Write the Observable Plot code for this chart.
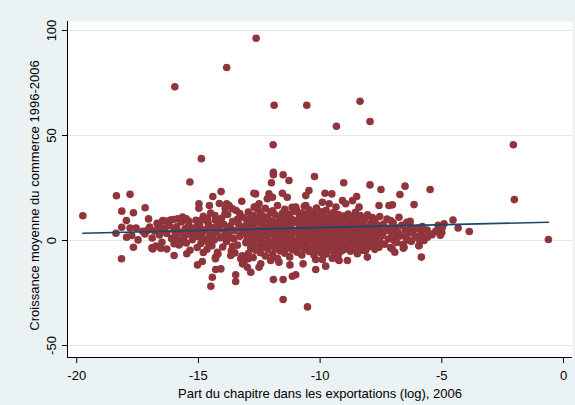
<!DOCTYPE html>
<html>
<head>
<meta charset="utf-8">
<script src="https://cdn.jsdelivr.net/npm/d3@7"></script>
<script src="https://cdn.jsdelivr.net/npm/@observablehq/plot@0.6"></script>
<style>
  html, body { margin: 0; padding: 0; background: #eaf2f3; }
  #chart { width: 575px; height: 405px; }
</style>
</head>
<body>
<div id="chart"></div>
<script>
// Axis ticks and titles
const xTicks = [-20, -15, -10, -5, 0];
const yTicks = [-50, 0, 50, 100];
const xTitle = "Part du chapitre dans les exportations (log), 2006";
const yTitle = "Croissance moyenne du commerce 1996-2006";

// Fitted line (linear fit), endpoints at the observed range of x
const fitX = [-19.75, -0.62];
const fitY = [3.5, 8.7];

// Chapters: [log export share, average trade growth]
const outliers = [
  [-12.63, 96.3], [-13.84, 82.4], [-15.97, 73.2], [-11.89, 64.4], [-10.55, 64.4],
  [-8.36, 66.3], [-7.95, 56.7], [-9.33, 54.4], [-11.93, 45.6], [-2.06, 45.6],
  [-14.88, 39.0], [-2.02, 19.5], [-0.62, 0.5], [-15.35, 27.9]
];

const leftEdge = [
  [-18.37, 21.3], [-17.81, 22.0], [-19.75, 11.8], [-18.15, 14.0], [-17.67, 13.2],
  [-17.19, 15.6], [-17.96, 9.5], [-17.05, 10.3], [-18.15, 6.3], [-18.39, 3.5],
  [-17.81, 6.0], [-17.56, 6.0], [-17.95, 1.6], [-17.74, 2.4], [-17.48, 0.3],
  [-17.67, -3.2], [-18.16, -8.7], [-17.29, 4.4], [-17.07, 5.1], [-16.68, 5.6],
  [-16.44, 6.0], [-16.91, -3.5], [-15.66, -0.8], [-16.47, 9.5], [-16.04, 10.0],
  [-15.86, 10.3], [-15.39, 9.2], [-14.93, 9.5], [-14.63, 10.3]
];

const upperFringe = [
  [-14.41, 21.0], [-14.07, 23.3], [-14.98, 17.5], [-14.98, 15.4], [-14.55, 16.7],
  [-14.14, 17.6], [-13.84, 17.5], [-14.32, 11.9], [-13.91, 12.7],
  [-11.92, 32.5], [-11.92, 31.3], [-11.52, 31.3], [-12.0, 27.5], [-11.28, 28.6],
  [-10.23, 30.5], [-9.03, 27.5], [-7.95, 26.5], [-7.50, 24.3], [-10.46, 23.8],
  [-10.59, 21.4], [-9.80, 22.5], [-9.52, 22.2], [-8.50, 21.0], [-11.55, 22.5],
  [-11.35, 20.6], [-12.10, 22.2], [-12.17, 19.9], [-12.65, 22.2], [-13.22, 18.7],
  [-13.74, 16.7], [-13.60, 15.1], [-9.91, 18.2], [-9.63, 17.5], [-9.08, 19.0],
  [-8.95, 17.5], [-8.67, 19.0], [-8.40, 15.9], [-7.58, 16.7], [-7.17, 16.7],
  [-11.0, 15.9], [-10.59, 16.7], [-12.51, 17.5], [-12.71, 15.9], [-11.96, 20.6],
  [-12.72, 22.5]
];

const rightEdge = [
  [-3.87, 4.3], [-4.33, 6.0], [-4.54, 9.8], [-4.91, 8.0], [-4.98, 6.3],
  [-5.06, 2.5], [-5.48, 24.3], [-6.14, 17.1], [-6.51, 25.9], [-6.72, 21.9],
  [-7.03, 17.0], [-6.76, 11.1], [-6.44, 8.7], [-6.28, 6.7], [-6.07, 5.6],
  [-5.80, 6.7], [-5.53, 3.5], [-5.59, 1.6], [-5.73, 0.0], [-5.94, -2.5],
  [-6.35, 0.0], [-6.55, -3.2], [-6.82, 3.5], [-7.03, 2.4], [-6.96, 0.0],
  [-7.10, 9.5], [-7.03, 5.6], [-5.84, -7.9], [-6.58, -3.7], [-6.93, -5.6]
];

const lowerFringe = [
  [-16.88, -4.0], [-16.55, -3.7], [-16.30, -4.0], [-16.0, -7.1], [-15.48, -6.3],
  [-15.04, -11.6], [-14.84, -10.0], [-14.30, -8.7], [-14.22, -5.6], [-14.29, -13.8],
  [-14.08, -13.5], [-14.43, -17.5], [-14.49, -21.8], [-13.47, -16.3], [-13.47, -19.5],
  [-12.85, -15.1], [-13.19, -11.1], [-12.95, -8.7], [-12.51, -12.7], [-11.92, -18.6],
  [-11.52, -18.6], [-11.14, -17.0], [-11.0, -16.3], [-11.52, -28.1], [-10.52, -31.6],
  [-10.70, -11.1], [-10.18, -13.8], [-9.77, -12.2], [-10.18, -9.0], [-9.91, -9.0],
  [-9.50, -8.4], [-9.22, -9.5], [-11.24, -11.6], [-11.69, -10.3], [-12.03, -9.5],
  [-8.61, -4.0], [-8.13, -4.8], [-7.58, -3.2], [-7.03, -4.0], [-9.09, -4.8],
  [-5.94, -2.4], [-12.99, -12.7], [-13.13, -10.3], [-12.44, -11.1], [-13.67, -7.1],
  [-13.26, -8.7], [-9.29, -8.7], [-8.88, -9.5], [-8.47, -6.3], [-8.06, -7.9]
];

const bandA = [
  [-17.2, 3.1], [-17.0, 6.4], [-16.9, 1.2], [-16.8, 4.5], [-16.7, 8.2], [-16.6, 2.6],
  [-16.5, -0.8], [-16.4, 5.3], [-16.3, 3.4], [-16.2, 7.1], [-16.1, 0.9], [-16.0, 4.8],
  [-15.95, 2.2], [-15.9, 6.5], [-15.8, -2.1], [-15.75, 3.9], [-15.7, 8.8], [-15.6, 1.5],
  [-15.55, 5.6], [-15.5, -1.2], [-15.45, 3.0], [-15.4, 7.4], [-15.3, 4.4], [-15.25, 0.4],
  [-15.2, 2.7], [-15.15, 6.1], [-15.1, 9.6], [-15.05, -3.3], [-15.0, 4.9], [-15.0, 1.8],
  [-16.6, 6.7], [-16.35, 9.3], [-16.0, -1.5], [-15.85, 0.3], [-15.65, 11.2], [-15.35, -4.6],
  [-17.1, 4.8], [-16.75, -2.6], [-16.15, 9.8], [-15.5, 10.4]
];

const bandB = [
  [-14.95, 7.2], [-14.9, -1.4], [-14.85, 3.6], [-14.8, 11.5], [-14.75, 0.6], [-14.7, 5.2],
  [-14.65, -4.2], [-14.6, 8.4], [-14.55, 2.3], [-14.5, 13.1], [-14.45, -2.5], [-14.4, 6.1],
  [-14.35, 0.2], [-14.3, 9.7], [-14.25, 3.8], [-14.2, -6.4], [-14.15, 5.5], [-14.1, 1.3],
  [-14.05, 10.6], [-14.0, -3.1], [-13.95, 7.6], [-13.9, 4.1], [-13.85, -0.5], [-13.8, 12.4],
  [-13.75, 2.8], [-13.7, 6.8], [-13.65, -4.9], [-13.6, 9.0], [-13.55, 0.9], [-13.5, 4.7],
  [-13.45, 14.3], [-13.4, -2.2], [-13.35, 7.9], [-13.3, 2.0], [-13.25, 5.9], [-13.2, -7.3],
  [-13.15, 11.0], [-13.1, 3.3], [-13.05, -1.0], [-13.0, 8.5],
  [-14.9, 4.4], [-14.7, 9.8], [-14.6, -0.9], [-14.4, 3.0], [-14.2, 7.4], [-14.0, 1.9],
  [-13.8, 5.0], [-13.6, -2.8], [-13.4, 10.1], [-13.2, 3.9], [-13.0, 0.4], [-14.8, -5.7],
  [-14.3, -8.0], [-13.9, 15.2], [-13.5, -5.9], [-13.1, 6.6], [-14.5, 5.9], [-14.1, 8.9],
  [-13.7, 1.4], [-13.3, 12.9]
];

const bandC = [
  [-12.95, -6.2], [-12.95, -0.4], [-12.95, 4.3], [-12.95, 8.9], [-12.95, 13.6],
  [-12.85, -3.5], [-12.85, 1.8], [-12.85, 6.5], [-12.85, 11.2],
  [-12.75, -8.1], [-12.75, -1.9], [-12.75, 2.9], [-12.75, 7.7], [-12.75, 12.0],
  [-12.65, -4.6], [-12.65, 0.7], [-12.65, 5.4], [-12.65, 10.3], [-12.65, 16.1],
  [-12.55, -2.7], [-12.55, 3.6], [-12.55, 9.4], [-12.55, 14.8],
  [-12.45, -5.8], [-12.45, 0.1], [-12.45, 5.0], [-12.45, 8.2], [-12.45, 12.7],
  [-12.35, -3.0], [-12.35, 2.4], [-12.35, 6.9], [-12.35, 11.6],
  [-12.25, -7.4], [-12.25, -1.2], [-12.25, 3.9], [-12.25, 9.8], [-12.25, 15.3],
  [-12.15, -4.1], [-12.15, 1.1], [-12.15, 6.0], [-12.15, 10.9],
  [-12.05, -2.3], [-12.05, 3.2], [-12.05, 8.0], [-12.05, 13.4],
  [-11.95, -6.7], [-11.95, -0.7], [-11.95, 4.6], [-11.95, 9.1], [-11.95, 14.2],
  [-11.85, -3.8], [-11.85, 2.0], [-11.85, 7.2], [-11.85, 12.3],
  [-11.75, -8.6], [-11.75, -1.6], [-11.75, 3.5], [-11.75, 8.6], [-11.75, 16.7],
  [-11.65, -5.0], [-11.65, 0.5], [-11.65, 5.7], [-11.65, 10.6],
  [-11.55, -2.9], [-11.55, 2.7], [-11.55, 7.4], [-11.55, 13.0],
  [-11.45, -6.0], [-11.45, -0.2], [-11.45, 4.0], [-11.45, 9.3], [-11.45, 14.9],
  [-11.35, -3.3], [-11.35, 1.5], [-11.35, 6.3], [-11.35, 11.5],
  [-11.25, -7.8], [-11.25, -1.4], [-11.25, 3.0], [-11.25, 8.1], [-11.25, 12.6],
  [-11.15, -4.4], [-11.15, 0.8], [-11.15, 5.2], [-11.15, 10.0], [-11.15, 15.8],
  [-11.05, -2.5], [-11.05, 3.7], [-11.05, 8.7], [-11.05, 13.9]
];

const bandD = [
  [-10.95, -5.5], [-10.95, -0.1], [-10.95, 4.8], [-10.95, 9.5], [-10.95, 14.0],
  [-10.85, -2.8], [-10.85, 2.2], [-10.85, 6.7], [-10.85, 11.8],
  [-10.75, -6.9], [-10.75, -1.0], [-10.75, 3.4], [-10.75, 8.3], [-10.75, 13.1],
  [-10.65, -4.2], [-10.65, 1.0], [-10.65, 5.9], [-10.65, 10.4], [-10.65, 16.3],
  [-10.55, -2.0], [-10.55, 3.1], [-10.55, 7.6], [-10.55, 12.5],
  [-10.45, -5.2], [-10.45, 0.3], [-10.45, 4.5], [-10.45, 9.0], [-10.45, 14.6],
  [-10.35, -3.6], [-10.35, 1.9], [-10.35, 6.4], [-10.35, 11.0],
  [-10.25, -7.0], [-10.25, -0.9], [-10.25, 3.8], [-10.25, 8.4], [-10.25, 12.9],
  [-10.15, -4.7], [-10.15, 0.6], [-10.15, 5.3], [-10.15, 10.2], [-10.15, 15.5],
  [-10.05, -2.4], [-10.05, 2.8], [-10.05, 7.3], [-10.05, 12.1],
  [-9.95, -5.9], [-9.95, -0.3], [-9.95, 4.2], [-9.95, 9.2], [-9.95, 13.7],
  [-9.85, -3.2], [-9.85, 1.6], [-9.85, 6.2], [-9.85, 11.3],
  [-9.75, -6.4], [-9.75, -1.5], [-9.75, 3.3], [-9.75, 8.2], [-9.75, 14.4],
  [-9.65, -4.0], [-9.65, 0.9], [-9.65, 5.6], [-9.65, 10.7],
  [-9.55, -2.2], [-9.55, 2.6], [-9.55, 7.0], [-9.55, 12.2],
  [-9.45, -5.3], [-9.45, -0.6], [-9.45, 4.1], [-9.45, 9.0], [-9.45, 13.3],
  [-9.35, -3.0], [-9.35, 1.7], [-9.35, 6.1], [-9.35, 10.8], [-9.35, 16.0],
  [-9.25, -6.6], [-9.25, -1.1], [-9.25, 3.2], [-9.25, 7.8], [-9.25, 12.4],
  [-9.15, -4.3], [-9.15, 0.4], [-9.15, 5.0], [-9.15, 9.9],
  [-9.05, -2.6], [-9.05, 2.5], [-9.05, 6.8], [-9.05, 11.7]
];

const bandE = [
  [-8.95, -4.0], [-8.95, 0.8], [-8.95, 5.4], [-8.95, 10.1],
  [-8.85, -1.8], [-8.85, 3.0], [-8.85, 7.6], [-8.85, 12.6],
  [-8.75, -5.1], [-8.75, 0.0], [-8.75, 4.4], [-8.75, 9.0],
  [-8.65, -2.6], [-8.65, 2.1], [-8.65, 6.6], [-8.65, 11.2],
  [-8.55, -0.8], [-8.55, 3.7], [-8.55, 8.3], [-8.55, 13.4],
  [-8.45, -3.9], [-8.45, 1.2], [-8.45, 5.6], [-8.45, 9.8],
  [-8.35, -2.0], [-8.35, 2.8], [-8.35, 7.1], [-8.35, 11.9],
  [-8.25, -4.6], [-8.25, 0.3], [-8.25, 4.6], [-8.25, 8.8],
  [-8.15, -1.3], [-8.15, 3.4], [-8.15, 6.2], [-8.15, 10.6],
  [-8.05, -3.2], [-8.05, 1.5], [-8.05, 5.8], [-8.05, 12.3],
  [-7.95, -0.5], [-7.95, 4.0], [-7.95, 8.0],
  [-7.85, -2.8], [-7.85, 2.2], [-7.85, 6.4], [-7.85, 10.9],
  [-7.75, -4.2], [-7.75, 0.6], [-7.75, 4.9], [-7.75, 9.3],
  [-7.65, -1.6], [-7.65, 3.1], [-7.65, 7.4],
  [-7.55, -0.2], [-7.55, 5.2], [-7.55, 11.4]
];

const bandF = [
  [-7.45, 2.4], [-7.4, 7.9], [-7.35, -1.8], [-7.3, 4.6], [-7.25, 10.2], [-7.2, 0.7],
  [-7.15, 5.9], [-7.1, -3.4], [-7.05, 3.3], [-7.0, 8.5], [-6.95, 1.4], [-6.9, 6.2],
  [-6.85, -0.9], [-6.8, 4.0], [-6.7, 2.2], [-6.65, 7.3], [-6.6, -1.9], [-6.5, 5.0],
  [-6.45, 1.0], [-6.4, 3.4], [-6.3, 9.1], [-6.25, -0.4], [-6.2, 4.2], [-6.1, 2.0],
  [-6.0, 6.0], [-5.95, 0.8], [-5.85, 3.6], [-5.7, 1.2], [-5.6, 5.0], [-5.4, 2.8],
  [-5.25, 4.4], [-5.15, 7.2], [-5.0, 3.8]
];

const points = [
  ...bandA, ...bandB, ...bandC, ...bandD, ...bandE, ...bandF,
  ...leftEdge, ...upperFringe, ...lowerFringe, ...rightEdge, ...outliers
].map(([x, y]) => ({x, y}));

const fit = fitX.map((x, i) => ({x, y: fitY[i]}));

const xDomain = [-20.38, 0.37];
const yDomain = [-55.7, 104.3];
const fmt = d => String(d);

const chart = Plot.plot({
  width: 575,
  height: 405,
  marginLeft: 67,
  marginRight: 3,
  marginTop: 21,
  marginBottom: 48,
  style: {
    background: "#eaf2f3",
    fontFamily: "'Liberation Sans', Arial, sans-serif",
    fontSize: "13px",
    color: "#000"
  },
  x: {domain: xDomain},
  y: {domain: yDomain},
  marks: [
    Plot.frame({fill: "white", stroke: null}),
    Plot.ruleY(yTicks, {stroke: "#e0eaee", strokeWidth: 1}),
    Plot.dot(points, {x: "x", y: "y", r: 3.8, fill: "#90353b", stroke: null}),
    Plot.line(fit, {x: "x", y: "y", stroke: "#1a476f", strokeWidth: 1.6}),
    Plot.ruleY([yDomain[0]], {stroke: "#000", strokeWidth: 1}),
    Plot.ruleX([xDomain[0]], {stroke: "#000", strokeWidth: 1}),
    Plot.axisX({ticks: xTicks, tickSize: 6, tickPadding: 7, tickFormat: fmt, label: null, stroke: "#000"}),
    Plot.axisY({ticks: yTicks, tickSize: 5, tickPadding: 7, tickRotate: -90, tickFormat: fmt, label: null, stroke: "#000"}),
    Plot.text([xTitle], {text: d => d, frameAnchor: "bottom", dy: 36, textAnchor: "middle", lineAnchor: "middle", fill: "#000"}),
    Plot.text([yTitle], {text: d => d, frameAnchor: "left", dx: -33, dy: 6, rotate: -90, textAnchor: "middle", lineAnchor: "middle", fill: "#000"})
  ]
});

document.getElementById("chart").appendChild(chart);
</script>
</body>
</html>
